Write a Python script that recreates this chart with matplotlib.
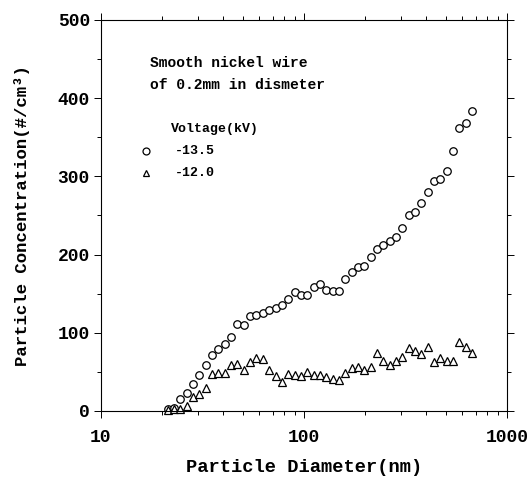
import numpy as np
import matplotlib
matplotlib.use('Agg')
import matplotlib.pyplot as plt
from matplotlib.ticker import FixedLocator, NullFormatter, MultipleLocator

# particle diameter channels (nm)
diam = [21.3, 22.9, 24.6, 26.4, 28.4, 30.5, 32.8, 35.3, 37.9, 40.7,
        43.7, 47.0, 50.5, 54.3, 58.3, 62.7, 67.3, 72.4, 77.8, 83.5,
        89.8, 96.5, 103.7, 111.4, 119.7, 128.6, 138.2, 148.5, 159.6, 171.5,
        184.3, 198.0, 212.8, 228.6, 245.7, 264.0, 283.7, 304.8, 327.5, 351.9,
        378.2, 406.4, 436.7, 469.3, 504.3, 541.9, 582.3, 625.7, 672.4]

# -13.5 kV
conc_135 = [2.1, 4.2, 15.7, 22.9, 34.8, 45.5, 59.0, 71.0, 79.4, 85.8,
            94.3, 111.3, 110.5, 121.9, 122.8, 124.9, 129.1, 131.7, 135.9, 143.2,
            151.7, 148.7, 148.7, 158.9, 162.3, 155.1, 152.9, 152.9, 168.6, 177.1,
            184.4, 185.6, 197.1, 206.9, 212.4, 217.5, 222.6, 234.5, 250.2, 254.9,
            266.4, 280.4, 294.0, 296.1, 306.7, 333.0, 362.0, 368.0, 384.0]

# -12.0 kV
conc_120 = [1.7, 3.0, 3.0, 5.9, 17.8, 21.2, 29.7, 46.7, 48.4, 48.4,
            58.2, 59.5, 52.7, 62.4, 68.0, 66.7, 51.8, 44.2, 37.0, 46.7,
            45.5, 44.2, 49.7, 45.5, 45.5, 43.3, 41.2, 39.1, 48.4, 55.2,
            56.1, 52.7, 56.1, 73.9, 63.7, 58.2, 63.3, 68.8, 80.7, 77.3,
            73.1, 81.6, 62.4, 68.0, 63.7, 63.7, 87.9, 81.6, 73.9]

font = 'Liberation Mono'

fig = plt.figure(figsize=(5.29, 4.79), dpi=100)
ax = fig.add_axes([0.1909, 0.142, 0.7675, 0.8163])

ax.plot(diam, conc_135, linestyle='none', marker='o', markersize=5.4,
        markerfacecolor='white', markeredgecolor='black', markeredgewidth=0.9,
        clip_on=False)
ax.plot(diam, conc_120, linestyle='none', marker='^', markersize=5.6,
        markerfacecolor='white', markeredgecolor='black', markeredgewidth=0.9,
        clip_on=False)

ax.set_xscale('log')
ax.set_xlim(10, 1000)
ax.set_ylim(0, 500)

ax.xaxis.set_major_locator(FixedLocator([10, 100, 1000]))
ax.set_xticklabels(['10', '100', '1000'])
ax.xaxis.set_minor_formatter(NullFormatter())
ax.yaxis.set_major_locator(MultipleLocator(100))
ax.yaxis.set_minor_locator(MultipleLocator(50))

ax.tick_params(which='both', direction='out', top=True, right=True,
               width=0.7, colors='black')
ax.tick_params(which='major', length=5, pad=3)
ax.tick_params(axis='x', which='major', pad=8)
ax.tick_params(which='minor', length=3)
for lab in ax.get_xticklabels() + ax.get_yticklabels():
    lab.set_fontfamily(font)
    lab.set_fontweight('bold')
    lab.set_fontsize(13)
for s in ax.spines.values():
    s.set_linewidth(0.8)

ax.set_xlabel('Particle Diameter(nm)', fontfamily=font, fontweight='bold',
              fontsize=13.5, labelpad=9)
ax.set_ylabel('Particle Concentration(#/cm³)', fontfamily=font,
              fontweight='bold', fontsize=12.5, labelpad=20)

ax.text(0.12, 0.890, 'Smooth nickel wire', transform=ax.transAxes,
        fontfamily=font, fontweight='bold', fontsize=10.5, va='center')
ax.text(0.12, 0.834, 'of 0.2mm in dismeter', transform=ax.transAxes,
        fontfamily=font, fontweight='bold', fontsize=10.5, va='center')
ax.text(0.172, 0.721, 'Voltage(kV)', transform=ax.transAxes,
        fontfamily=font, fontweight='bold', fontsize=9.5, va='center')
ax.plot([0.111], [0.665], transform=ax.transAxes, marker='o', markersize=5,
        markerfacecolor='white', markeredgecolor='black', markeredgewidth=0.9)
ax.plot([0.111], [0.609], transform=ax.transAxes, marker='^', markersize=5,
        markerfacecolor='white', markeredgecolor='black', markeredgewidth=0.9)
ax.text(0.182, 0.665, '-13.5', transform=ax.transAxes,
        fontfamily=font, fontweight='bold', fontsize=9.5, va='center')
ax.text(0.182, 0.609, '-12.0', transform=ax.transAxes,
        fontfamily=font, fontweight='bold', fontsize=9.5, va='center')

fig.savefig('out.png', dpi=100)
